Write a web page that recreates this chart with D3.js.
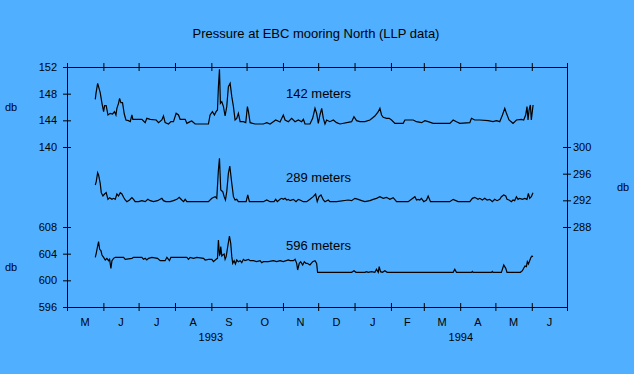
<!DOCTYPE html>
<html>
<head>
<meta charset="utf-8">
<script src="https://cdn.jsdelivr.net/npm/d3@7"></script>
<style>
  body { margin: 0; background: #50b0ff; }
  svg { display: block; font-family: "Liberation Sans", Arial, sans-serif; }
</style>
</head>
<body>
<svg></svg>
<script>

const title = "Pressure at EBC mooring North (LLP data)";
const depthLabels = ["142 meters", "289 meters", "596 meters"];
const unitLabel = "db";
const ticks142 = [140, 144, 148, 152];
const ticks289 = [288, 292, 296, 300];
const ticks596 = [596, 600, 604, 608];

// [days since 1 May 1993, pressure in db]
const p142 = [[24.1,147.15],[24.7,148.05],[26.1,149.55],[26.9,149.05],[28.3,148.15],[29.8,146.55],[31.2,145.3],[32.0,146.2],[33.4,146.2],[34.9,144.8],[36.8,145.05],[38.8,144.95],[40.5,145.3],[41.7,144.8],[42.5,145.8],[43.9,146.55],[44.8,147.3],[45.9,146.65],[47.3,146.65],[48.8,144.95],[50.2,144.05],[52.4,143.95],[53.9,143.8],[55.3,144.8],[56.1,144.15],[59.5,144.15],[63.8,144.15],[66.6,143.65],[68.0,144.3],[70.9,144.15],[76.0,144.05],[78.0,143.65],[80.8,144.05],[82.2,144.65],[83.6,143.65],[86.5,143.45],[88.5,143.8],[90.7,143.8],[93.0,145.05],[95.0,144.8],[96.4,144.15],[100.7,144.15],[102.1,143.55],[104.9,143.8],[106.3,143.9],[109.2,143.45],[120.5,143.45],[121.9,144.8],[123.9,145.3],[125.6,144.8],[127.0,145.3],[128.2,145.55],[129.0,149.05],[129.9,151.65],[130.7,146.55],[131.9,146.8],[133.3,146.05],[134.7,144.65],[136.1,146.05],[137.5,149.05],[139.0,149.55],[140.4,147.55],[141.8,146.05],[143.2,144.05],[144.6,144.3],[146.0,145.05],[147.5,143.8],[150.3,143.8],[152.3,143.65],[153.7,146.05],[154.6,145.3],[156.0,143.65],[160.2,143.45],[167.3,143.45],[170.2,143.65],[173.0,143.45],[175.8,143.8],[177.8,144.05],[181.5,143.75],[184.3,144.8],[185.8,144.05],[188.6,143.8],[191.4,144.3],[194.3,143.8],[197.1,144.05],[199.9,143.8],[201.4,144.15],[202.8,143.45],[207.0,143.45],[209.3,144.3],[211.3,145.8],[212.7,145.05],[214.1,143.55],[215.5,144.8],[217.0,145.8],[218.4,144.3],[219.8,143.45],[221.2,144.05],[224.0,143.8],[226.9,144.05],[229.7,143.65],[232.6,143.45],[242.5,143.8],[244.5,144.55],[246.7,143.95],[249.6,143.8],[253.8,143.8],[258.1,144.05],[262.3,144.65],[265.2,145.3],[266.6,145.8],[268.0,144.8],[269.4,144.45],[272.3,144.3],[274.5,144.3],[276.5,144.05],[279.4,143.55],[286.4,143.55],[287.9,144.05],[295.0,144.05],[297.8,143.8],[302.1,143.65],[304.9,143.95],[307.7,143.8],[312.0,143.55],[326.2,143.55],[329.0,144.05],[331.8,143.8],[334.7,143.55],[343.2,143.65],[344.6,144.3],[347.4,144.05],[351.7,144.05],[358.8,143.95],[363.0,143.8],[365.9,143.95],[368.7,143.8],[371.0,144.8],[373.0,145.8],[374.4,145.05],[376.6,144.05],[380.0,143.55],[382.9,144.05],[387.1,144.15],[389.1,144.05],[390.8,144.8],[391.9,146.05],[392.8,144.05],[393.7,145.55],[394.8,146.3],[395.6,144.05],[397.1,146.3]];

const p289 = [[24.1,294.3],[24.9,294.8],[26.1,296.15],[26.9,295.8],[28.3,294.55],[29.2,293.15],[30.6,292.65],[32.0,292.95],[33.4,293.15],[34.9,292.15],[36.3,292.4],[38.3,292.15],[39.7,292.3],[41.1,292.15],[42.5,292.95],[43.9,292.65],[45.4,293.15],[46.8,292.95],[48.2,292.45],[49.6,292.05],[51.0,291.8],[53.3,292.05],[55.3,292.4],[56.7,292.15],[58.1,291.8],[61.0,291.8],[63.8,291.95],[66.6,291.8],[68.9,292.15],[70.9,291.95],[73.7,291.8],[77.1,291.95],[80.8,292.3],[82.2,291.95],[84.2,291.8],[87.9,291.8],[90.7,291.95],[93.6,292.15],[95.6,292.45],[97.8,292.05],[99.3,291.8],[100.7,292.15],[102.1,291.8],[120.5,291.8],[123.4,292.3],[126.2,292.55],[127.6,292.3],[129.0,296.55],[129.9,298.3],[131.0,293.55],[132.7,293.3],[133.9,292.55],[135.0,292.05],[136.1,293.3],[137.5,296.05],[138.7,297.15],[140.4,294.55],[141.8,292.55],[143.2,292.05],[144.6,292.15],[146.0,291.8],[152.6,291.8],[154.0,292.8],[155.4,291.8],[167.3,291.8],[170.2,292.05],[173.0,291.8],[176.4,291.8],[177.8,292.15],[179.2,291.8],[181.5,292.15],[182.9,292.3],[184.3,292.15],[185.8,292.3],[187.2,292.05],[188.6,292.15],[190.0,291.95],[192.9,292.15],[195.1,291.8],[197.1,292.15],[198.5,292.05],[201.3,291.8],[204.2,291.8],[207.0,292.15],[209.8,292.55],[211.8,292.95],[213.2,291.8],[214.7,292.55],[216.4,292.8],[218.4,292.05],[219.8,291.8],[222.6,292.05],[224.0,291.8],[229.7,291.8],[239.6,292.05],[242.5,291.95],[245.3,292.3],[248.1,292.15],[251.0,291.95],[253.8,291.8],[258.1,291.95],[260.9,292.15],[263.7,292.3],[266.6,292.55],[269.4,292.3],[272.2,292.45],[275.1,292.15],[277.9,292.4],[280.8,291.8],[290.7,291.8],[293.5,292.15],[296.4,292.55],[297.8,292.05],[299.2,292.15],[300.6,292.05],[302.0,292.3],[304.0,291.8],[306.3,292.05],[307.7,292.65],[309.7,291.8],[326.1,291.8],[329.0,292.15],[333.2,291.8],[343.2,291.8],[345.4,292.3],[347.4,292.45],[350.2,292.15],[351.7,292.3],[353.9,292.05],[355.9,292.3],[357.9,292.05],[360.2,292.15],[362.4,291.8],[364.4,292.15],[366.4,291.95],[368.7,292.15],[370.1,292.55],[372.1,292.8],[373.8,292.65],[374.9,292.15],[376.6,292.05],[378.6,291.8],[380.0,292.05],[381.4,291.95],[382.9,292.55],[384.3,292.15],[385.7,292.3],[388.0,292.15],[390.0,292.3],[391.9,292.15],[393.1,293.05],[394.2,292.3],[395.6,292.55],[397.0,293.15]];

const p596 = [[24.1,603.45],[24.9,604.05],[26.1,605.15],[26.9,605.8],[27.8,604.65],[28.9,604.45],[29.8,603.8],[31.2,603.45],[32.6,603.05],[34.0,603.3],[35.4,602.95],[36.3,603.15],[37.4,601.8],[38.3,602.95],[39.7,603.3],[41.1,603.45],[48.2,603.45],[49.6,603.15],[55.3,603.3],[56.7,603.45],[63.8,603.45],[65.2,603.15],[66.6,603.3],[68.0,603.05],[69.5,603.3],[72.3,603.45],[77.1,603.3],[79.4,602.95],[83.6,602.95],[85.1,603.45],[87.3,602.95],[88.5,603.45],[102.1,603.45],[103.5,603.15],[104.9,603.45],[107.8,603.3],[110.6,603.45],[116.3,603.3],[117.7,603.05],[120.5,603.15],[123.4,603.15],[124.8,602.8],[127.0,603.15],[128.2,603.3],[129.0,606.05],[129.9,603.8],[130.5,603.95],[131.0,605.05],[131.9,603.65],[132.7,603.8],[133.9,603.95],[134.7,603.15],[135.6,603.55],[136.7,604.8],[138.4,606.65],[139.5,605.55],[140.4,603.55],[141.2,602.55],[142.4,602.95],[143.5,602.45],[144.6,603.05],[146.0,602.8],[147.5,602.95],[148.9,602.65],[150.3,603.15],[151.7,602.95],[154.6,603.15],[156.0,602.95],[158.8,602.95],[161.6,602.8],[164.5,602.95],[165.9,602.65],[167.3,602.8],[171.6,602.8],[175.8,602.95],[178.7,602.8],[181.5,602.95],[184.3,602.8],[188.6,603.05],[190.0,602.95],[192.9,602.95],[194.3,603.15],[195.7,602.55],[196.5,601.55],[197.9,602.55],[199.1,602.8],[200.8,602.3],[202.2,602.8],[203.6,602.55],[204.7,602.55],[207.0,602.3],[209.3,602.8],[211.3,602.95],[212.7,602.55],[213.5,601.2],[242.5,601.2],[244.5,601.45],[246.2,601.2],[253.8,601.2],[255.2,601.3],[256.6,601.2],[259.5,601.3],[262.3,601.2],[263.7,601.65],[265.2,601.2],[266.0,602.05],[267.1,601.3],[268.8,601.2],[270.8,601.45],[272.8,601.2],[329.0,601.2],[330.4,601.65],[331.8,601.2],[344.6,601.2],[345.4,601.35],[346.0,601.2],[361.6,601.2],[362.4,601.35],[363.0,601.2],[370.1,601.2],[372.1,602.3],[373.8,601.8],[374.9,601.2],[386.3,601.2],[388.0,601.45],[389.1,601.8],[390.2,602.15],[391.4,602.05],[392.2,602.8],[393.1,602.45],[394.2,602.95],[395.3,603.45],[396.2,603.65],[397.0,603.55]];

const width = 634, height = 374;
const margin = {top: 67, right: 67, bottom: 67, left: 67};
const start = new Date(Date.UTC(1993, 4, 1));
const end = new Date(Date.UTC(1994, 6, 1));
const dayDate = d => new Date(start.getTime() + d * 864e5);

const x = d3.scaleUtc().domain([start, end]).range([margin.left, width - margin.right]);
// same db per pixel on all three scales, different offsets
const y142 = d3.scaleLinear().domain([116, 152]).range([height - margin.bottom, margin.top]);
const y289 = d3.scaleLinear().domain([276, 312]).range([height - margin.bottom, margin.top]);
const y596 = d3.scaleLinear().domain([596, 632]).range([height - margin.bottom, margin.top]);

const svg = d3.select("svg").attr("width", width).attr("height", height);

svg.append("text")
  .attr("x", 316).attr("y", 38)
  .attr("text-anchor", "middle")
  .attr("font-size", 13)
  .text(title);

const months = d3.utcMonth.range(start, d3.utcDay.offset(end, 1));

function styleAxis(g) {
  g.select(".domain").attr("stroke", "#000");
  g.selectAll(".tick line").attr("stroke", "#000");
  g.selectAll(".tick text").attr("fill", "#000").attr("font-size", 11).attr("font-family", "Liberation Sans, Arial, sans-serif");
}

// top and bottom month ticks (ticks cross the axis line)
svg.append("g")
  .attr("transform", `translate(0,${margin.top})`)
  .call(d3.axisTop(x).tickValues(months).tickSize(4).tickSizeOuter(0).tickFormat(""))
  .call(styleAxis)
  .call(g => g.selectAll(".tick line").attr("y1", 4));

svg.append("g")
  .attr("transform", `translate(0,${height - margin.bottom})`)
  .call(d3.axisBottom(x).tickValues(months).tickSize(4).tickSizeOuter(0).tickFormat(""))
  .call(styleAxis)
  .call(g => g.selectAll(".tick line").attr("y1", -4));

// month initials mid-month
const monthSpans = months.slice(0, -1);
svg.append("g").selectAll("text")
  .data(monthSpans)
  .enter().append("text")
  .attr("x", d => x(new Date((d.getTime() + d3.utcMonth.offset(d, 1).getTime()) / 2)))
  .attr("y", 326)
  .attr("text-anchor", "middle")
  .attr("font-size", 11)
  .text(d => d3.utcFormat("%b")(d)[0]);

// year labels centred on their part of the axis
const years = d3.utcYear.range(d3.utcYear.floor(start), end);
svg.append("g").selectAll("text")
  .data(years)
  .enter().append("text")
  .attr("x", d => {
    const a = d < start ? start : d;
    const b = d3.utcYear.offset(d, 1) > end ? end : d3.utcYear.offset(d, 1);
    return (x(a) + x(b)) / 2;
  })
  .attr("y", 341)
  .attr("text-anchor", "middle")
  .attr("font-size", 11)
  .text(d => d3.utcFormat("%Y")(d));

// left: two scales on one axis line
svg.append("g")
  .attr("transform", `translate(${margin.left},0)`)
  .call(d3.axisLeft(y142).tickValues(ticks142).tickSize(4).tickPadding(6).tickSizeOuter(0))
  .call(styleAxis)
  .call(g => g.selectAll(".tick line").attr("x1", 4));

svg.append("g")
  .attr("transform", `translate(${margin.left},0)`)
  .call(d3.axisLeft(y596).tickValues(ticks596).tickSize(4).tickPadding(6).tickSizeOuter(0))
  .call(styleAxis)
  .call(g => g.selectAll(".tick line").attr("x1", 4));

svg.append("g")
  .attr("transform", `translate(${width - margin.right},0)`)
  .call(d3.axisRight(y289).tickValues(ticks289).tickSize(4).tickPadding(2).tickSizeOuter(0))
  .call(styleAxis)
  .call(g => g.selectAll(".tick line").attr("x1", -4));

// units
svg.append("text").attr("x", 5).attr("y", 111).attr("font-size", 11).text(unitLabel);
svg.append("text").attr("x", 5).attr("y", 271).attr("font-size", 11).text(unitLabel);
svg.append("text").attr("x", 617).attr("y", 191).attr("font-size", 11).text(unitLabel);

// series
const series = [
  {data: p142, y: y142, label: depthLabels[0], ly: 98},
  {data: p289, y: y289, label: depthLabels[1], ly: 182},
  {data: p596, y: y596, label: depthLabels[2], ly: 250}
];

series.forEach(s => {
  const line = d3.line()
    .x(d => x(dayDate(d[0])))
    .y(d => s.y(d[1]));
  svg.append("path")
    .datum(s.data)
    .attr("fill", "none")
    .attr("stroke", "#000")
    .attr("stroke-width", 1.2)
    .attr("d", line);
  svg.append("text")
    .attr("x", 286).attr("y", s.ly)
    .attr("font-size", 13)
    .text(s.label);
});

</script>
</body>
</html>
